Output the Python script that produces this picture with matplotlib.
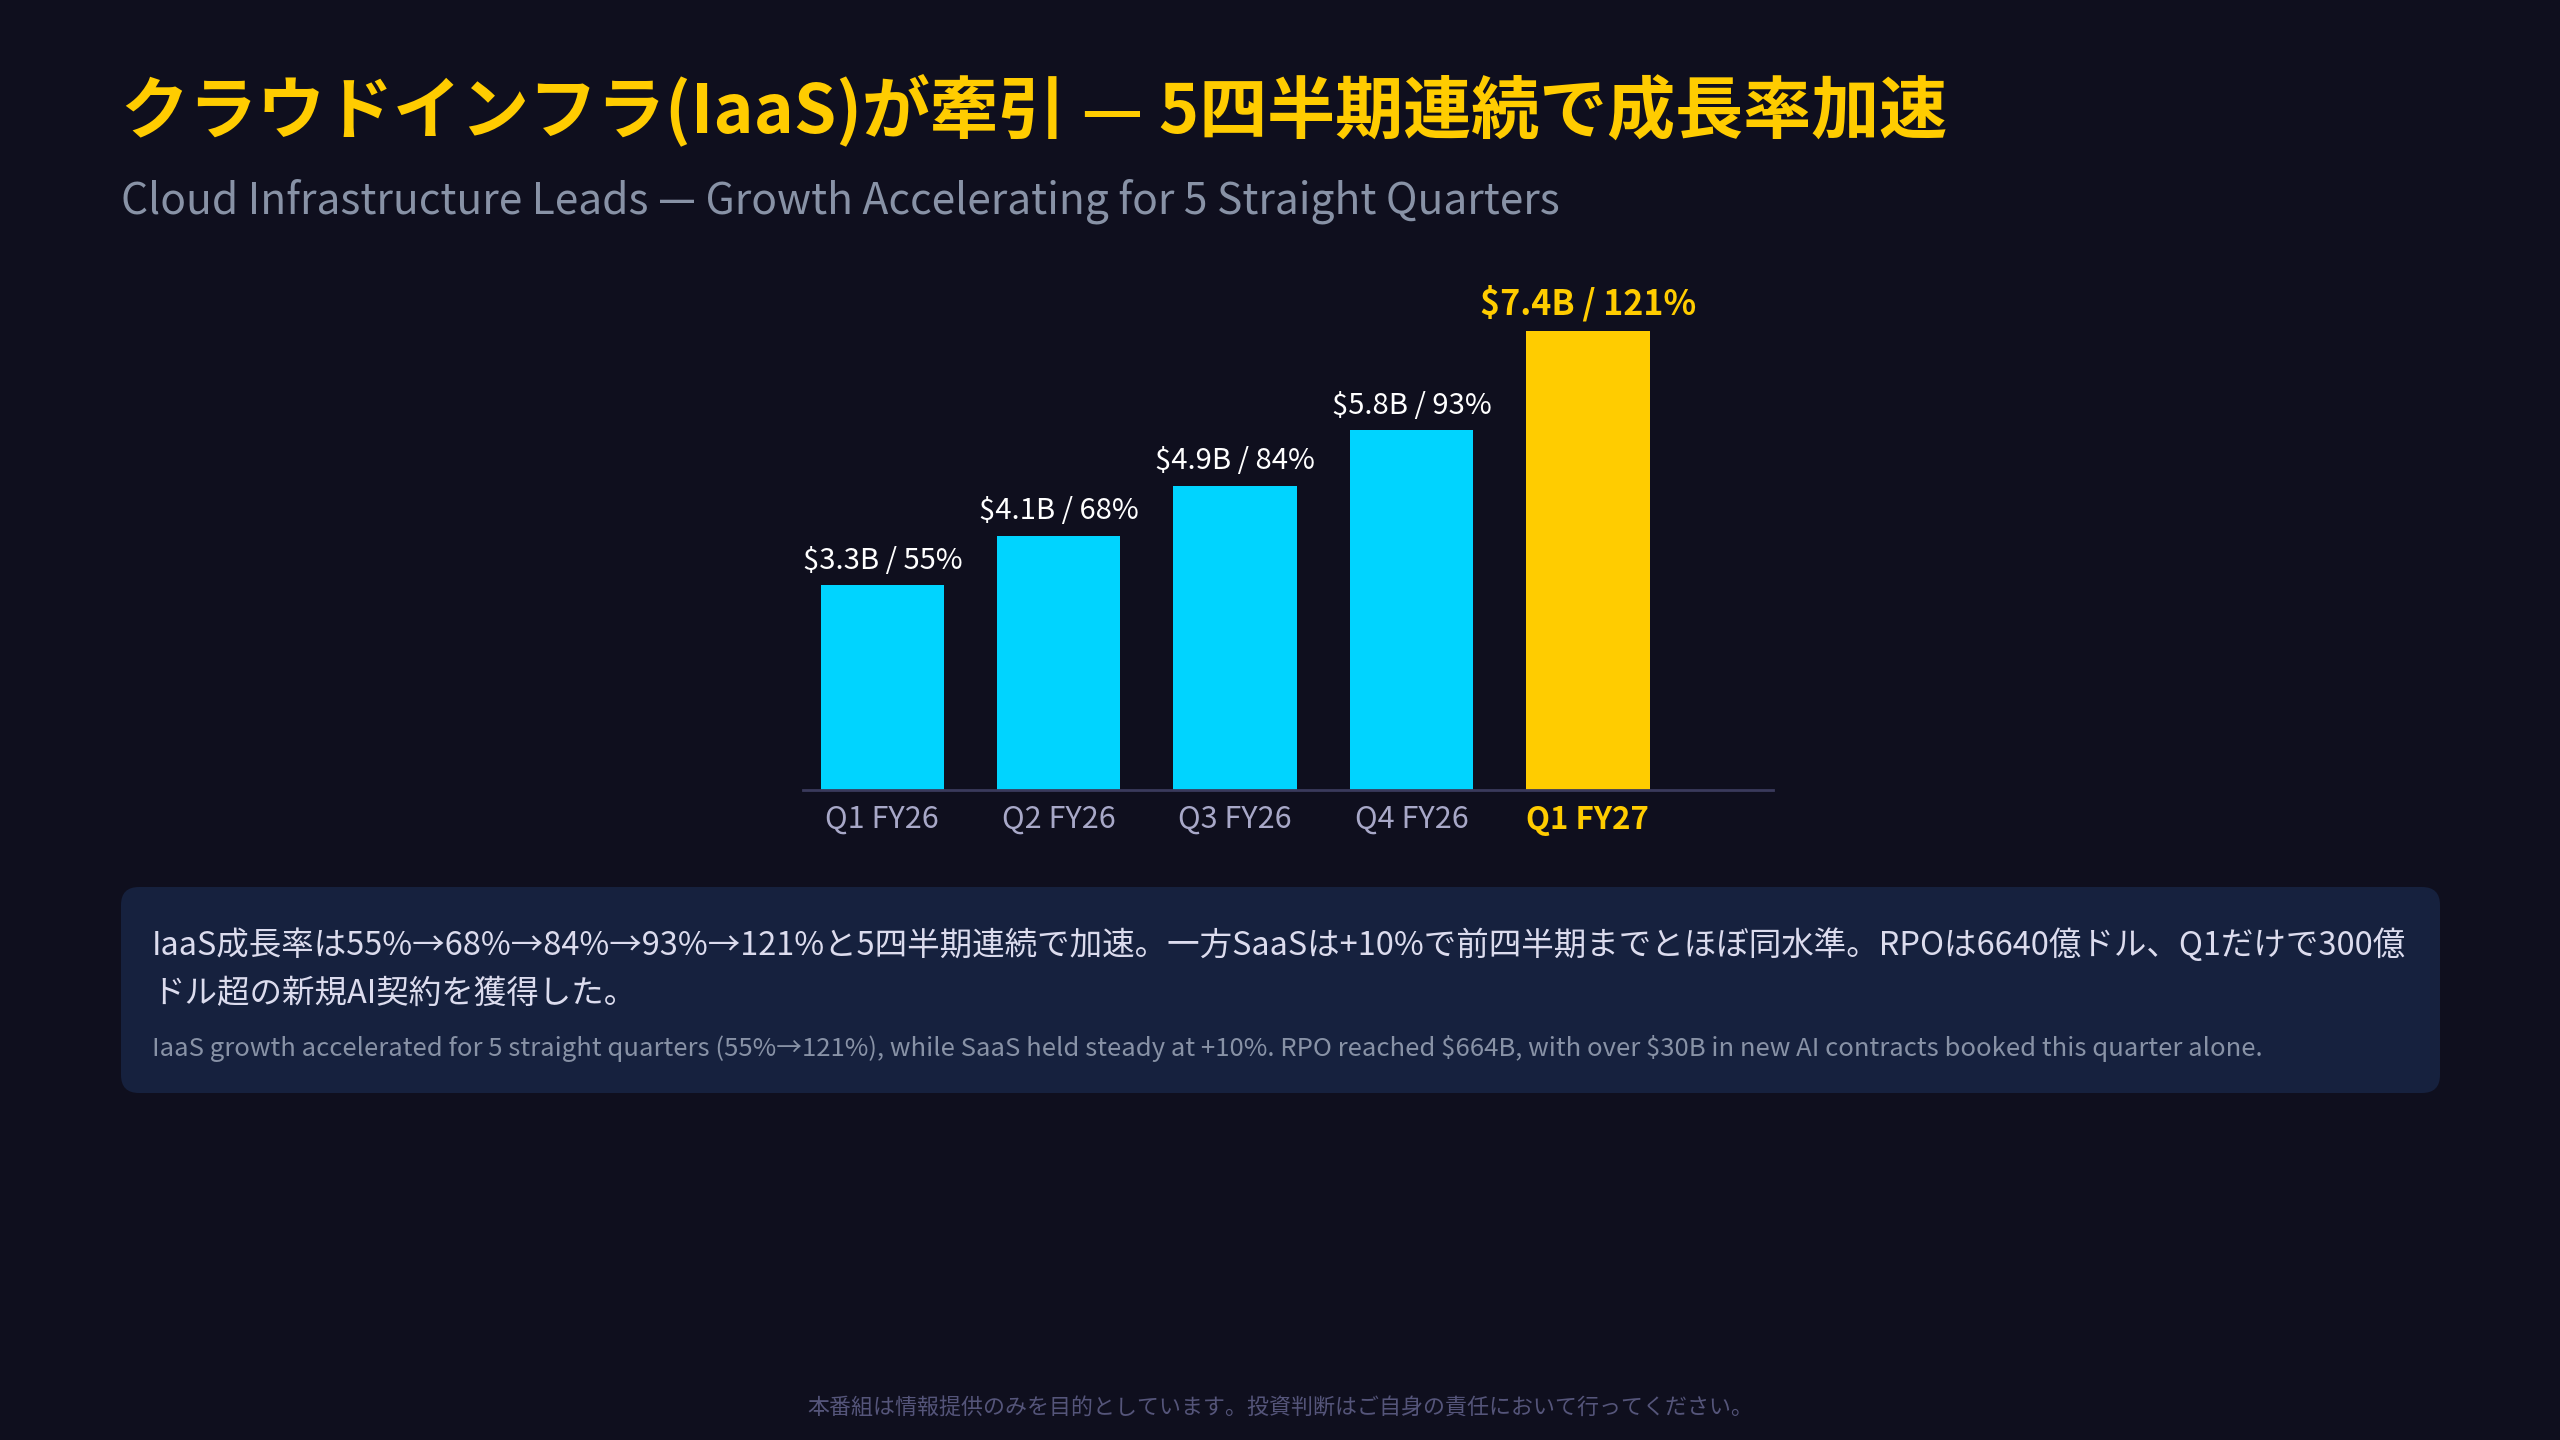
import matplotlib
matplotlib.use("Agg")
import matplotlib.pyplot as plt
from matplotlib.patches import FancyBboxPatch

plt.rcParams['font.family'] = ['Noto Sans CJK JP', 'DejaVu Sans']
plt.rcParams['text.parse_math'] = False

# ---- data ----
quarters = ["Q1 FY26", "Q2 FY26", "Q3 FY26", "Q4 FY26", "Q1 FY27"]
revenue_b = [3.3, 4.1, 4.9, 5.8, 7.4]
growth_pct = [55, 68, 84, 93, 121]
highlight = [False, False, False, False, True]

title = "クラウドインフラ(IaaS)が牽引 — 5四半期連続で成長率加速"
subtitle = "Cloud Infrastructure Leads — Growth Accelerating for 5 Straight Quarters"
body_jp_1 = "IaaS成長率は55%→68%→84%→93%→121%と5四半期連続で加速。一方SaaSは+10%で前四半期までとほぼ同水準。RPOは6640億ドル、Q1だけで300億"
body_jp_2 = "ドル超の新規AI契約を獲得した。"
body_en = "IaaS growth accelerated for 5 straight quarters (55%→121%), while SaaS held steady at +10%. RPO reached $664B, with over $30B in new AI contracts booked this quarter alone."
footer = "本番組は情報提供のみを目的としています。投資判断はご自身の責任において行ってください。"

# ---- style ----
BG = "#0f0f1e"
CYAN = "#00d4ff"
GOLD = "#ffcc00"
BOX = "#16213e"
AXIS = "#3a3a5c"
TICK = "#a8a8c8"

W, H = 2560, 1440
fig = plt.figure(figsize=(25.6, 14.4), dpi=100, facecolor=BG)

# overlay axes in pixel coordinates
bg = fig.add_axes([0, 0, 1, 1], zorder=0)
bg.set_xlim(0, W)
bg.set_ylim(H, 0)
bg.axis("off")
bg.set_facecolor(BG)

bg.text(121, 111, title, color=GOLD, fontsize=49, fontweight="bold", va="center", ha="left")
bg.text(121, 201, subtitle, color="#8892a6", fontsize=30.6, va="center", ha="left")

box = FancyBboxPatch((121, 887), 2440 - 121, 1093 - 887,
                     boxstyle="round,pad=0,rounding_size=18",
                     facecolor=BOX, edgecolor="none")
bg.add_patch(box)
bg.text(152, 945, body_jp_1, color="#dcdcee", fontsize=23.4, va="center", ha="left")
bg.text(152, 994, body_jp_2, color="#dcdcee", fontsize=23.4, va="center", ha="left")
bg.text(152, 1048, body_en, color="#8892a6", fontsize=18.5, va="center", ha="left")

bg.text(W / 2, 1409, footer, color="#55557a", fontsize=15.8, va="center", ha="center")

# ---- chart ----
left, right = 803 / W, 1773 / W
bottom = 1 - 790 / H
top = 1 - 266 / H
ax = fig.add_axes([left, bottom, right - left, top - bottom], zorder=1)
ax.set_facecolor("none")

xs = list(range(len(quarters)))
colors = [GOLD if h else CYAN for h in highlight]
bars = ax.bar(xs, revenue_b, width=0.7, color=colors, zorder=2)

ax.set_xlim(-0.45, 5.05)
ax.set_ylim(0, 8.45)

for x, v, g, h in zip(xs, revenue_b, growth_pct, highlight):
    ax.annotate(f"${v}B / {g}%", (x, v), xytext=(0, 7), textcoords="offset points",
                ha="center", va="bottom",
                color=GOLD if h else "white",
                fontsize=24.5 if h else 21,
                fontweight="bold" if h else "normal",
                clip_on=False)

for s in ["top", "right", "left"]:
    ax.spines[s].set_visible(False)
ax.spines["bottom"].set_color(AXIS)
ax.spines["bottom"].set_linewidth(2)
ax.set_yticks([])
ax.set_xticks(xs)
ax.set_xticklabels(quarters)
ax.tick_params(axis="x", length=0, pad=10, labelsize=22, labelcolor=TICK)
for lbl, h in zip(ax.get_xticklabels(), highlight):
    if h:
        lbl.set_color(GOLD)
        lbl.set_fontweight("bold")
        lbl.set_fontsize(22.5)

fig.savefig("out.png", dpi=100, facecolor=BG)
